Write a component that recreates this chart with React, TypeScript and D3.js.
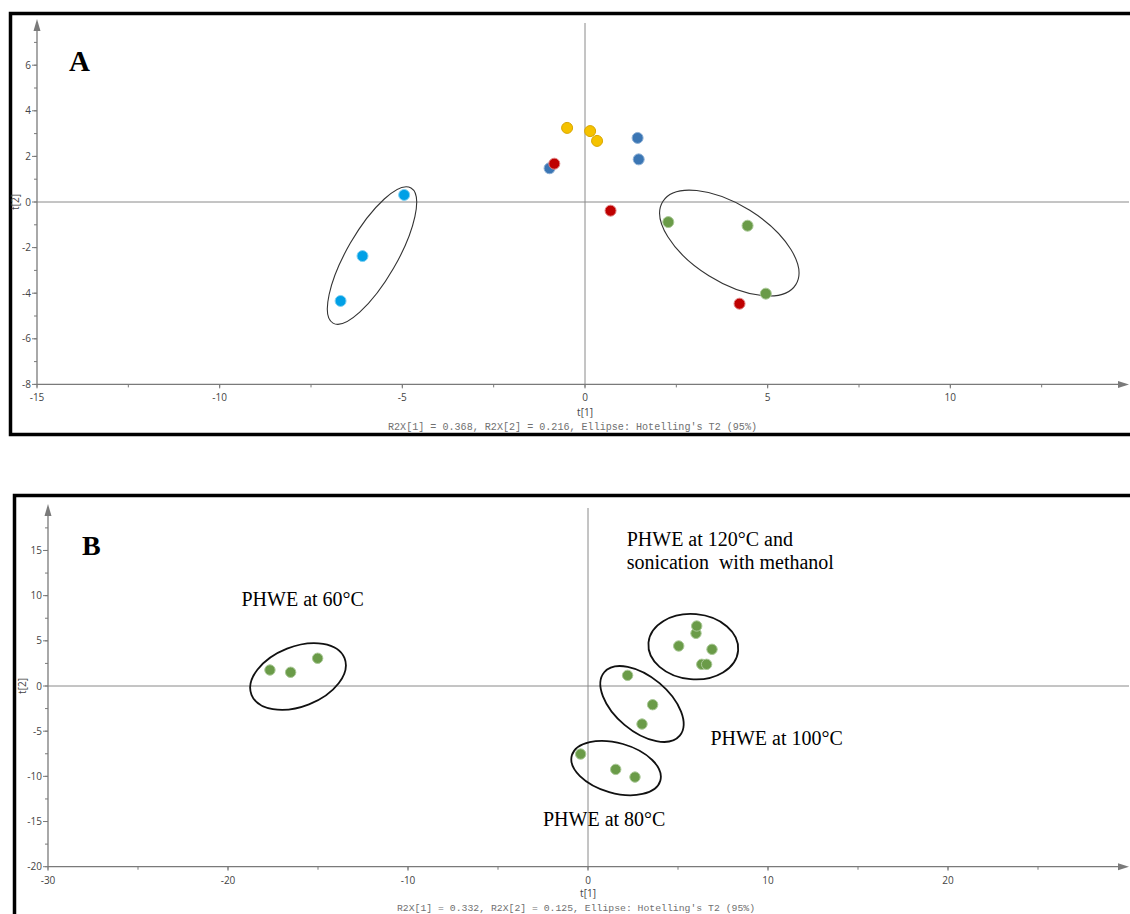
import React from "react";
import * as d3 from "d3";

// ---------- Panel A data ----------
const aXTicks = [-15, -10, -5, 0, 5, 10];
const aYTicks = [-8, -6, -4, -2, 0, 2, 4, 6];
const aCyan = [[-4.95, 0.31], [-6.09, -2.37], [-6.69, -4.34]];
const aYellow = [[-0.49, 3.25], [0.14, 3.11], [0.33, 2.68]];
const aBlue = [[1.44, 2.81], [1.47, 1.87], [-0.97, 1.48]];
const aRed = [[-0.84, 1.68], [0.7, -0.38], [4.23, -4.46]];
const aGreen = [[2.28, -0.88], [4.45, -1.04], [4.95, -4.02]];
// ellipses: [centerX, centerY] in data units
const aEllipseCenters = [[-5.83, -2.35], [3.95, -1.8]];
const aCaption = "R2X[1] = 0.368, R2X[2] = 0.216, Ellipse: Hotelling's T2 (95%)";

// ---------- Panel B data ----------
const bXTicks = [-30, -20, -10, 0, 10, 20];
const bYTicks = [-20, -15, -10, -5, 0, 5, 10, 15];
const bGreen = [
  [-17.67, 1.77], [-16.52, 1.52], [-15.02, 3.07],
  [6.0, 5.83], [6.04, 6.64], [5.04, 4.43], [6.89, 4.06], [6.32, 2.4], [6.59, 2.4],
  [2.2, 1.18], [3.59, -2.07], [3.0, -4.21],
  [-0.41, -7.53], [1.54, -9.23], [2.61, -10.08],
];
const bEllipseCenters = [[-16.11, 1.05], [5.85, 4.35], [3.0, -1.99], [1.56, -9.08]];
const bLabels = [
  "PHWE at 60°C",
  "PHWE at 120°C and",
  "sonication  with methanol",
  "PHWE at 100°C",
  "PHWE at 80°C",
];
const bLabelPos = [[-19.25, 8.85], [2.15, 15.5], [2.15, 12.9], [6.8, -6.5], [-2.5, -15.5]];
const bCaption = "R2X[1] = 0.332, R2X[2] = 0.125, Ellipse: Hotelling's T2 (95%)";

// ellipse shapes in pixels: [a, b, angleDeg]
const aEllipseShapes = [[78, 25, -60], [78.4, 38.6, 32]];
const bEllipseShapes = [[50, 30, -21.5], [45, 32.6, 5], [49.3, 27.2, 40], [46, 25, 16]];

const TICK_FONT = "'Open Sans', 'Noto Sans', sans-serif";
const MONO = "'Liberation Mono', 'DejaVu Sans Mono', monospace";
const SERIF = "'Liberation Serif', 'DejaVu Serif', serif";
const AXIS = "#7a7a7a";

function Axes({ x, y, xTicks, yTicks, xMinorStep, yMinorStep, xMinorMax, yMinorMax, xArrow, yArrow, capY, capX, caption, capFont, capLen, t1Y, t2X }) {
  const x0 = x.range()[0];
  const y0 = y.range()[0];
  const xMinor = d3.range(xTicks[0], xMinorMax + 1e-9, xMinorStep);
  const yMinor = d3.range(yTicks[0], yMinorMax + 1e-9, yMinorStep);
  return (
    <g>
      <line x1={x0} x2={xArrow} y1={y(0)} y2={y(0)} stroke="#8a8a8a" strokeWidth={1} />
      <line x1={x(0)} x2={x(0)} y1={y0} y2={yArrow + 4} stroke="#8a8a8a" strokeWidth={1} />
      <line x1={x0} x2={xArrow - 8} y1={y0} y2={y0} stroke={AXIS} strokeWidth={1.3} />
      <line x1={x0} x2={x0} y1={y0} y2={yArrow + 8} stroke={AXIS} strokeWidth={1.3} />
      <polygon points={`${xArrow},${y0} ${xArrow - 11},${y0 - 3.5} ${xArrow - 11},${y0 + 3.5}`} fill={AXIS} />
      <polygon points={`${x0},${yArrow} ${x0 - 3.5},${yArrow + 12} ${x0 + 3.5},${yArrow + 12}`} fill={AXIS} />
      {xMinor.map((v, i) => (
        <line key={"xm" + i} x1={x(v)} x2={x(v)} y1={y0} y2={y0 + 3} stroke={AXIS} />
      ))}
      {yMinor.map((v, i) => (
        <line key={"ym" + i} x1={x0 - 3} x2={x0} y1={y(v)} y2={y(v)} stroke={AXIS} />
      ))}
      {xTicks.map((v) => (
        <g key={"xt" + v}>
          <line x1={x(v)} x2={x(v)} y1={y0} y2={y0 + 4} stroke={AXIS} />
          <text x={x(v)} y={y0 + 17} textAnchor="middle" fontSize={10} fill="#444" fontFamily={TICK_FONT}>{v}</text>
        </g>
      ))}
      {yTicks.map((v) => (
        <g key={"yt" + v}>
          <line x1={x0 - 5} x2={x0} y1={y(v)} y2={y(v)} stroke={AXIS} />
          <text x={x0 - 6} y={y(v) + 3.5} textAnchor="end" fontSize={10} fill="#444" fontFamily={TICK_FONT}>{v}</text>
        </g>
      ))}
      <text x={x(0)} y={t1Y} textAnchor="middle" fontSize={10} fill="#444" fontFamily={TICK_FONT}>t[1]</text>
      <text transform={`translate(${t2X},${y(0)}) rotate(-90)`} textAnchor="middle" fontSize={10} fill="#444" fontFamily={TICK_FONT}>t[2]</text>
      <text x={capX} y={capY} fontSize={capFont} fill="#707070" fontFamily={MONO} textLength={capLen} lengthAdjust="spacingAndGlyphs">{caption}</text>
    </g>
  );
}

function Ellipse({ cx, cy, shape, stroke, width }) {
  const [a, b, ang] = shape;
  return (
    <ellipse cx={0} cy={0} rx={a} ry={b} transform={`translate(${cx},${cy}) rotate(${ang})`} fill="none" stroke={stroke} strokeWidth={width} />
  );
}

function Dots({ data, x, y, fill, stroke, r }) {
  return (
    <g>
      {data.map((d, i) => (
        <circle key={i} cx={x(d[0])} cy={y(d[1])} r={r} fill={fill} stroke={stroke} strokeWidth={1} />
      ))}
    </g>
  );
}

export default function App() {
  const ax = d3.scaleLinear().domain([-15, 15]).range([37, 1133]);
  const ay = d3.scaleLinear().domain([-8, 8]).range([384.4, 19.6]);
  const bx = d3.scaleLinear().domain([-30, 30]).range([48, 1128]);
  const by = d3.scaleLinear().domain([-20, 20]).range([866.7, 505.3]);

  return (
    <svg width={1130} height={914} style={{ position: "absolute", left: 0, top: 0, background: "#fff" }}>
      <rect x={0} y={0} width={1130} height={914} fill="#fff" />
      {/* Panel A */}
      <rect x={10.5} y={13.5} width={1130} height={421} fill="none" stroke="#000" strokeWidth={3.5} />
      <Axes x={ax} y={ay} xTicks={aXTicks} yTicks={aYTicks} xMinorStep={2.5} yMinorStep={1} xMinorMax={12.5} yMinorMax={7}
        xArrow={1129} yArrow={19} capY={430} capX={388} caption={aCaption} capFont={10} capLen={369} t1Y={416} t2X={19} />
      {aEllipseCenters.map((c, i) => (
        <Ellipse key={i} cx={ax(c[0])} cy={ay(c[1])} shape={aEllipseShapes[i]} stroke="#333" width={1.1} />
      ))}
      <Dots data={aCyan} x={ax} y={ay} fill="#00a0e6" stroke="#7fd0f2" r={5.5} />
      <Dots data={aYellow} x={ax} y={ay} fill="#f5c200" stroke="#d9a600" r={5.5} />
      <Dots data={aBlue} x={ax} y={ay} fill="#3b76b4" stroke="#8db0d6" r={5.5} />
      <Dots data={aRed} x={ax} y={ay} fill="#bf0000" stroke="#df8080" r={5.5} />
      <Dots data={aGreen} x={ax} y={ay} fill="#6a9b48" stroke="#a9c896" r={5.5} />
      <text x={69} y={71} fontSize={29} fontWeight="bold" fontFamily={SERIF} fill="#000">A</text>

      {/* Panel B */}
      <rect x={14.5} y={495.5} width={1130} height={430} fill="none" stroke="#000" strokeWidth={3.5} />
      <Axes x={bx} y={by} xTicks={bXTicks} yTicks={bYTicks} xMinorStep={5} yMinorStep={2.5} xMinorMax={25} yMinorMax={17.5}
        xArrow={1129} yArrow={504} capY={911} capX={397} caption={bCaption} capFont={9.8} capLen={358} t1Y={897} t2X={26} />
      {bEllipseCenters.map((c, i) => (
        <Ellipse key={i} cx={bx(c[0])} cy={by(c[1])} shape={bEllipseShapes[i]} stroke="#111" width={1.8} />
      ))}
      <Dots data={bGreen} x={bx} y={by} fill="#6a9b48" stroke="#a9c896" r={5.2} />
      {bLabels.map((t, i) => (
        <text key={i} x={bx(bLabelPos[i][0])} y={by(bLabelPos[i][1])} fontSize={20} fontFamily={SERIF} fill="#000" style={{ whiteSpace: "pre" }}>{t}</text>
      ))}
      <text x={82} y={555} fontSize={28} fontWeight="bold" fontFamily={SERIF} fill="#000">B</text>
    </svg>
  );
}
